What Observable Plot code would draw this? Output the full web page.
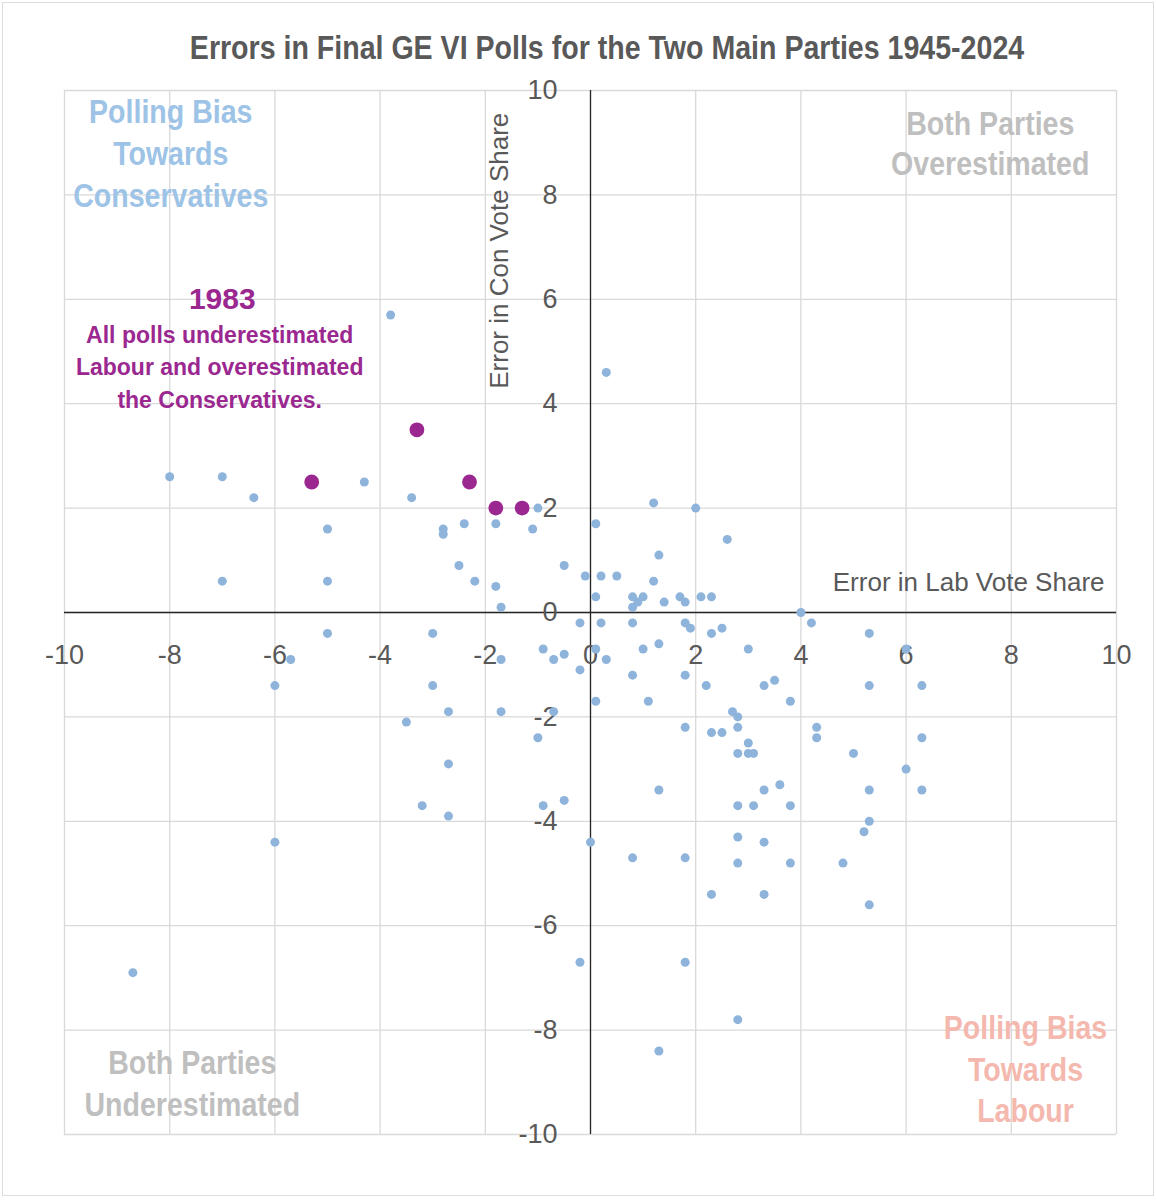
<!DOCTYPE html>
<html>
<head>
<meta charset="utf-8">
<script src="https://cdn.jsdelivr.net/npm/d3@7"></script>
<script src="https://cdn.jsdelivr.net/npm/@observablehq/plot@0.6"></script>
<style>
  body { margin: 0; background: #fff; }
  #wrap { position: relative; width: 1156px; height: 1200px; }
  #border { position: absolute; left: 2px; top: 2px; width: 1150px; height: 1192px; border: 1px solid #dedede; }
  #title { position: absolute; left: 29px; top: 28px; width: 1156px; text-align: center;
    font-family: "Liberation Sans", sans-serif; font-weight: bold;
    font-size: 34px; line-height: 38px; color: #595959; transform: scaleX(0.84); }
  #chart_01 { position: absolute; left: 0; top: 64px; }
</style>
</head>
<body>
<div id="wrap">
  <div id="border"></div>
  <div id="title">Errors in Final GE VI Polls for the Two Main Parties 1945-2024</div>
  <div id="chart_01"></div>
</div>
<script>
// error in Labour share (x) and Conservative share (y), one value per final poll
const labErr = [
  -3.8, 0.3, -8, -7, -6.4, -4.3, -3.4, -1.0, 1.2, 2.0,
  -5, -2.8, -2.8, -2.4, -1.8, -1.1, 0.1, 2.6, 1.3, -7,
  -5, -2.5, -2.2, -1.8, -1.7, -0.5, -0.1, 0.2, 0.5, 1.2,
  0.1, 0.8, 1.0, 0.9, 0.8, 1.4, 1.7, 1.8, 2.1, 2.3,
  4.0, -5, -3, -0.2, 0.2, 0.8, 1.8, 1.9, 2.3, 2.5,
  4.2, 5.3, -5.7, -1.7, -0.9, -0.7, -0.5, 0.1, 0.3, -0.2,
  1.0, 1.3, 3.0, 6.0, 0.8, 1.8, -6, -3, 2.2, 3.3,
  3.5, 5.3, 6.3, 0.1, 1.1, 3.8, -2.7, -1.7, -0.7, 2.7,
  2.8, -3.5, 1.8, 2.8, 2.3, 2.5, 4.3, 4.3, 6.3, -1.0,
  3.0, 2.8, 3.0, 3.1, 5.0, -2.7, 6.0, 1.3, 3.3, 3.6,
  5.3, 6.3, -0.5, -3.2, -0.9, 2.8, 3.1, 3.8, -2.7, 5.3,
  5.2, -6, 0.0, 2.8, 3.3, 0.8, 1.8, 2.8, 3.8, 4.8,
  2.3, 3.3, 5.3, -0.2, 1.8, 2.8, 1.3, -8.7
]
const conErr = [
  5.7, 4.6, 2.6, 2.6, 2.2, 2.5, 2.2, 2.0, 2.1, 2.0,
  1.6, 1.6, 1.5, 1.7, 1.7, 1.6, 1.7, 1.4, 1.1, 0.6,
  0.6, 0.9, 0.6, 0.5, 0.1, 0.9, 0.7, 0.7, 0.7, 0.6,
  0.3, 0.3, 0.3, 0.2, 0.1, 0.2, 0.3, 0.2, 0.3, 0.3,
  0.0, -0.4, -0.4, -0.2, -0.2, -0.2, -0.2, -0.3, -0.4, -0.3,
  -0.2, -0.4, -0.9, -0.9, -0.7, -0.9, -0.8, -0.7, -0.9, -1.1,
  -0.7, -0.6, -0.7, -0.7, -1.2, -1.2, -1.4, -1.4, -1.4, -1.4,
  -1.3, -1.4, -1.4, -1.7, -1.7, -1.7, -1.9, -1.9, -1.9, -1.9,
  -2.0, -2.1, -2.2, -2.2, -2.3, -2.3, -2.2, -2.4, -2.4, -2.4,
  -2.5, -2.7, -2.7, -2.7, -2.7, -2.9, -3.0, -3.4, -3.4, -3.3,
  -3.4, -3.4, -3.6, -3.7, -3.7, -3.7, -3.7, -3.7, -3.9, -4.0,
  -4.2, -4.4, -4.4, -4.3, -4.4, -4.7, -4.7, -4.8, -4.8, -4.8,
  -5.4, -5.4, -5.6, -6.7, -6.7, -7.8, -8.4, -6.9
]
// the 1983 polls
const lab1983 = [-3.3, -5.3, -2.3, -1.8, -1.3]
const con1983 = [3.5, 2.5, 2.5, 2.0, 2.0]

const ticks = [-10, -8, -6, -4, -2, 0, 2, 4, 6, 8, 10]

const polls = labErr.map((d, i) => ({lab: d, con: conErr[i]}))
const polls83 = lab1983.map((d, i) => ({lab: d, con: con1983[i]}))

const grey = "#595959"
// quadrant labels are drawn bold then squeezed horizontally (see below)
const quad = {fontWeight: "bold", fontSize: 34, className: "condensed"}

let chart = Plot.plot({
  width: 1156,
  height: 1136,
  marginLeft: 64,
  marginRight: 40,
  marginTop: 26,
  marginBottom: 66,
  x: {domain: [-10, 10], axis: null},
  y: {domain: [-10, 10], axis: null},
  style: {fontFamily: "Liberation Sans, sans-serif", overflow: "visible"},
  marks: [
    Plot.gridX(ticks, {stroke: "#d9d9d9", strokeOpacity: 1, strokeWidth: 1.3}),
    Plot.gridY(ticks, {stroke: "#d9d9d9", strokeOpacity: 1, strokeWidth: 1.3}),
    // quadrant labels
    Plot.text(["Polling Bias\nTowards\nConservatives"], {x: -7.98, y: 8.83, fill: "#9dc3e6", lineHeight: 1.24, ...quad}),
    Plot.text(["Both Parties\nOverestimated"], {x: 7.6, y: 9.01, fill: "#bfbfbf", lineHeight: 1.18, ...quad}),
    Plot.text(["Both Parties\nUnderestimated"], {x: -7.57, y: -8.98, fill: "#bfbfbf", lineHeight: 1.24, ...quad}),
    Plot.text(["Polling Bias\nTowards\nLabour"], {x: 8.27, y: -8.72, fill: "#f4b8ae", lineHeight: 1.22, ...quad}),
    // 1983 note
    Plot.text(["1983"], {x: -7.0, y: 6.0, fill: "#9b2790", fontWeight: "bold", fontSize: 30}),
    Plot.text(["All polls underestimated\nLabour and overestimated\nthe Conservatives."], {x: -7.05, y: 4.74, fill: "#9b2790", fontWeight: "bold", fontSize: 23, lineHeight: 1.41}),
    // axes through the origin
    Plot.ruleX([0], {stroke: "#262626", strokeWidth: 1.3}),
    Plot.ruleY([0], {stroke: "#262626", strokeWidth: 1.3}),
    Plot.text(ticks, {x: d => d, y: 0, dy: 43, text: d => String(d), fill: grey, fontSize: 27}),
    Plot.text(ticks, {x: 0, y: d => d, dx: -33, text: d => String(d), textAnchor: "end", fill: grey, fontSize: 27}),
    Plot.text(["Error in Lab Vote Share"], {x: 10, y: 0, dx: -12, dy: -30, textAnchor: "end", fill: grey, fontSize: 26}),
    Plot.text(["Error in Con Vote Share"], {x: 0, y: 6.93, dx: -91, rotate: -90, fill: grey, fontSize: 26}),
    // polls
    Plot.dot(polls, {x: "lab", y: "con", r: 4.5, fill: "#8fb4dc"}),
    Plot.dot(polls83, {x: "lab", y: "con", r: 7.4, fill: "#9b2790"})
  ]
})

// no narrow font installed: squeeze the quadrant labels around their own anchor
d3.select(chart).selectAll("g.condensed text").attr("transform", function() {
  return (this.getAttribute("transform") || "") + " scale(0.84,1)"
})
d3.select('#chart_01').append(() => chart)
</script>
</body>
</html>
